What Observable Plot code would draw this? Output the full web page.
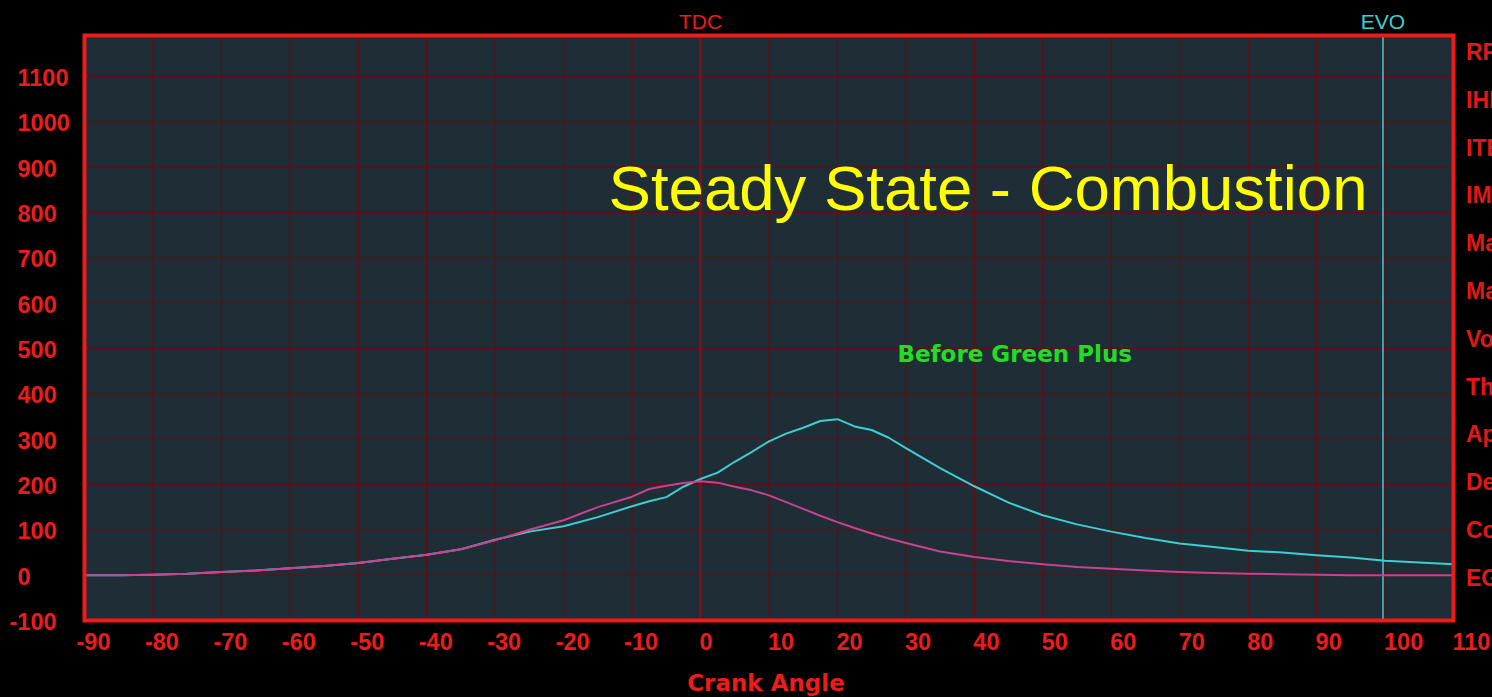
<!DOCTYPE html>
<html><head><meta charset="utf-8">
<script src="https://cdn.jsdelivr.net/npm/d3@7"></script>
<script src="https://cdn.jsdelivr.net/npm/@observablehq/plot@0.6"></script>
<style>
html,body{margin:0;padding:0;background:#000;overflow:hidden;width:1492px;height:697px;}
#wrap{position:relative;width:1492px;height:697px;overflow:hidden;}
#side{position:absolute;left:1466px;top:29px;font-family:"Liberation Sans",Arial,sans-serif;font-weight:bold;font-size:23px;line-height:47.8px;color:#e01818;white-space:nowrap;}
</style></head><body><div id="wrap"><div id="chart"></div><div id="side"></div></div>
<script>
const crankAngle = [-90,-85,-80,-75,-70,-65,-60,-55,-50,-45,-40,-35,-30,-25,-20,-15,-10,-7.5,-5,-2.5,0,2.5,5,7.5,10,12.5,15,17.5,20,22.5,25,27.5,30,35,40,45,50,55,60,65,70,75,80,85,90,95,100,105,110];
const combustion = [0,0,1,3,7,10,15,20,27,36,45,57,78,96,108,128,152,163,172,195,212,226,250,272,295,312,325,340,344,328,320,303,280,236,196,160,132,112,96,82,70,62,54,50,44,39,32,28,24];
const motoring = [0,0,1,3,7,10,15,20,27,36,45,57,77,100,121,150,173,190,197,203,207,204,195,187,176,161,146,131,117,104,92,81,71,52,40,31,24,18,14,10,7,5,3,2,1,0,0,0,0];
const xTicks = [-90,-80,-70,-60,-50,-40,-30,-20,-10,0,10,20,30,40,50,60,70,80,90,100,110];
const yTicks = [-100,0,100,200,300,400,500,600,700,800,900,1000,1100];
const markers = [{label:"TDC", angle:0},{label:"EVO", angle:99.7}];
const sideLabels = ["RPM","IHP","ITE","IMEP","Max P","Max Pr","Vol Eff","Thermal","App HR","Del","Comb","EGT"];
const titleText = "Steady State - Combustion";
const seriesNote = "Before Green Plus";
const xTitle = "Crank Angle";

const RED = "#ec1c1c";
const GRID = "#640c16";
const TEAL = "#3ccfd0";
const PINK = "#c8428e";
const tickFont = "'Liberation Sans',Arial,sans-serif";
const fmt = d => String(d);

const comb = crankAngle.map((a,i)=>({a, v: combustion[i]}));
const mot = crankAngle.map((a,i)=>({a, v: motoring[i]}));

const tickStyle = {tickSize: 0, tickPadding: 0, textAnchor: "start", fill: RED, fontSize: 23.5, fontFamily: tickFont, fontWeight: "bold", label: null, tickFormat: fmt};

const chart = Plot.plot({
  width: 1492, height: 697,
  marginLeft: 84, marginRight: 39, marginTop: 35, marginBottom: 77,
  x: {domain: [-90, 110]},
  y: {domain: [-100, 1190]},
  style: {background: "#000", fontFamily: "'Liberation Sans',Arial,sans-serif", overflow: "visible"},
  marks: [
    Plot.frame({fill: "#1f2e36", stroke: null}),
    Plot.gridX(xTicks.filter(d => d > -90 && d < 110), {stroke: GRID, strokeOpacity: 1, strokeWidth: 1.3}),
    Plot.gridY(yTicks.filter(d => d > -100), {stroke: GRID, strokeOpacity: 1, strokeWidth: 1.3}),
    Plot.ruleX(markers.filter(d => d.label === "TDC"), {x: "angle", stroke: "#7c1018", strokeWidth: 3}),
    Plot.ruleX(markers.filter(d => d.label === "EVO"), {x: "angle", stroke: TEAL, strokeWidth: 1.5}),
    Plot.line(comb, {x: "a", y: "v", stroke: TEAL, strokeWidth: 2}),
    Plot.line(mot, {x: "a", y: "v", stroke: PINK, strokeWidth: 2}),
    Plot.frame({stroke: RED, strokeWidth: 4}),
    Plot.text(markers, {x: "angle", text: "label", frameAnchor: "top", lineAnchor: "middle", dy: -13.5, fill: d => d.label === "TDC" ? RED : TEAL, fontSize: 21, fontFamily: tickFont}),
    Plot.axisY(yTicks.filter(d => d >= 0), {...tickStyle, anchor: "left", dx: -67, dy: 2}),
    Plot.axisY(yTicks.filter(d => d < 0), {...tickStyle, anchor: "left", dx: -75, dy: 2}),
    Plot.axisX(xTicks.filter(d => d >= 0), {...tickStyle, anchor: "bottom", dx: -1, dy: 13}),
    Plot.axisX(xTicks.filter(d => d < 0), {...tickStyle, anchor: "bottom", dx: -8, dy: 13}),
    Plot.text([xTitle], {frameAnchor: "bottom", lineAnchor: "middle", text: d => d, dx: -3, dy: 63.5, fill: RED, fontSize: 23, fontWeight: "bold", fontFamily: "'DejaVu Sans',sans-serif"}),
    Plot.text([titleText], {x: 42, y: 849, text: d => d, fill: "#ffff00", fontSize: 63.5}),
    Plot.text([seriesNote], {x: 45.9, y: 486, text: d => d, fill: "#22dd22", fontSize: 23, fontWeight: "bold", fontFamily: "'DejaVu Sans',sans-serif"})
  ]
});
document.getElementById("chart").appendChild(chart);
document.getElementById("side").innerHTML = sideLabels.map(s => `<div>${s}</div>`).join("");
</script></body></html>
